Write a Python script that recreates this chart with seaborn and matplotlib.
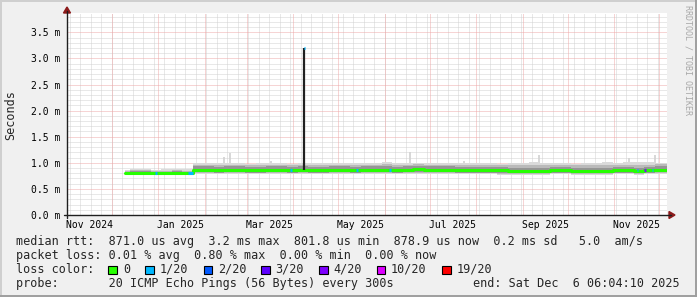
import numpy as np
import pandas as pd
import matplotlib
matplotlib.use("Agg")
import matplotlib.pyplot as plt
from matplotlib.patches import Rectangle, Polygon
from matplotlib.lines import Line2D
import seaborn as sns

# ---------------- data (values in ms) ----------------
period_starts = ["2024-12-10"] + list(
    pd.date_range("2024-12-13", "2025-12-05", freq="7D").strftime("%Y-%m-%d"))
range_start = "2024-11-01 06:04:10"
range_end = "2025-12-06 06:04:10"

median_ms = [0.80, 0.81, 0.81, 0.80, 0.80, 0.81, 0.80,
             0.87, 0.87, 0.86, 0.87, 0.87, 0.86, 0.86, 0.87, 0.87, 0.86,
             0.87, 0.86, 0.86, 0.87, 0.87, 0.86, 0.87, 0.87, 0.87, 0.86,
             0.87, 0.88, 0.87, 0.87, 0.87, 0.86, 0.86, 0.86, 0.86, 0.86,
             0.85, 0.85, 0.85, 0.85, 0.86, 0.86, 0.85, 0.85, 0.85, 0.85,
             0.86, 0.86, 0.85, 0.86, 0.87, 0.87]
outer_lo = [0.79, 0.79, 0.79, 0.79, 0.79, 0.79, 0.79,
            0.79, 0.79, 0.78, 0.79, 0.79, 0.78, 0.78, 0.79, 0.79, 0.78,
            0.79, 0.78, 0.78, 0.79, 0.79, 0.78, 0.79, 0.79, 0.79, 0.78,
            0.79, 0.79, 0.79, 0.78, 0.78, 0.78, 0.78, 0.78, 0.78, 0.77,
            0.77, 0.77, 0.77, 0.77, 0.78, 0.78, 0.77, 0.77, 0.77, 0.77,
            0.78, 0.78, 0.77, 0.78, 0.79, 0.79]
outer_hi = [0.87, 0.88, 0.88, 0.87, 0.88, 0.89, 0.88,
            0.99, 1.00, 0.99, 1.00, 0.99, 0.98, 0.99, 1.00, 0.99, 0.98,
            0.99, 0.99, 1.00, 0.99, 0.99, 1.00, 0.99, 1.00, 1.01, 1.00,
            0.99, 1.00, 1.00, 0.99, 0.99, 1.00, 1.00, 0.99, 0.99, 0.98,
            0.99, 1.00, 1.01, 1.00, 0.99, 0.99, 0.98, 0.99, 1.00, 1.01,
            1.00, 1.01, 1.02, 1.01, 1.00, 1.00]
mid_lo = [0.80, 0.80, 0.80, 0.79, 0.79, 0.80, 0.79,
          0.81, 0.81, 0.80, 0.81, 0.81, 0.80, 0.80, 0.81, 0.81, 0.80,
          0.81, 0.80, 0.80, 0.81, 0.81, 0.80, 0.81, 0.81, 0.81, 0.80,
          0.81, 0.81, 0.81, 0.80, 0.80, 0.80, 0.80, 0.80, 0.80, 0.79,
          0.79, 0.79, 0.79, 0.79, 0.80, 0.80, 0.79, 0.79, 0.79, 0.79,
          0.80, 0.80, 0.79, 0.80, 0.81, 0.81]
mid_hi = [0.85, 0.86, 0.86, 0.85, 0.85, 0.86, 0.85,
          0.96, 0.96, 0.95, 0.96, 0.96, 0.95, 0.95, 0.96, 0.96, 0.95,
          0.96, 0.95, 0.95, 0.96, 0.96, 0.95, 0.96, 0.96, 0.97, 0.96,
          0.96, 0.97, 0.96, 0.96, 0.96, 0.95, 0.95, 0.95, 0.95, 0.95,
          0.95, 0.95, 0.95, 0.95, 0.96, 0.96, 0.95, 0.95, 0.95, 0.95,
          0.96, 0.96, 0.96, 0.96, 0.97, 0.97]
core_lo = [0.80, 0.80, 0.80, 0.80, 0.80, 0.80, 0.80,
           0.82, 0.82, 0.81, 0.82, 0.82, 0.81, 0.81, 0.82, 0.82, 0.81,
           0.82, 0.81, 0.81, 0.82, 0.82, 0.81, 0.82, 0.82, 0.82, 0.81,
           0.82, 0.83, 0.82, 0.82, 0.82, 0.81, 0.81, 0.81, 0.81, 0.81,
           0.80, 0.80, 0.80, 0.80, 0.81, 0.81, 0.80, 0.80, 0.80, 0.80,
           0.81, 0.81, 0.80, 0.81, 0.82, 0.82]
core_hi = [0.83, 0.84, 0.84, 0.83, 0.83, 0.84, 0.83,
           0.93, 0.93, 0.92, 0.93, 0.93, 0.92, 0.92, 0.93, 0.93, 0.92,
           0.93, 0.92, 0.92, 0.93, 0.93, 0.92, 0.93, 0.93, 0.93, 0.92,
           0.93, 0.94, 0.93, 0.93, 0.93, 0.92, 0.92, 0.92, 0.92, 0.92,
           0.91, 0.91, 0.91, 0.91, 0.92, 0.92, 0.91, 0.91, 0.91, 0.91,
           0.92, 0.92, 0.91, 0.92, 0.93, 0.93]

gray_spike_dates = ["2025-02-14", "2025-02-18", "2025-03-17", "2025-06-12",
                    "2025-06-18", "2025-07-24", "2025-09-12", "2025-11-11",
                    "2025-11-28"]
gray_spike_tops = [1.11, 1.18, 1.04, 1.00, 1.21, 1.03, 1.15, 1.09, 1.15]

rtt_spike_date = "2025-04-08"
rtt_spike_base = 0.87
rtt_spike_top = 3.20

loss_start = ["2024-12-30", "2025-01-21", "2025-03-30", "2025-04-08",
              "2025-05-13", "2025-06-04", "2025-11-16", "2025-11-21",
              "2025-11-26"]
loss_days = [1, 3, 1, 1, 1, 1, 1, 1, 1]
loss_level = [1, 1, 1, 1, 1, 1, 1, 4, 1]
loss_value = [0.81, 0.80, 0.87, 3.20, 0.87, 0.87, 0.86, 0.86, 0.86]

loss_names = ["0", "1/20", "2/20", "3/20", "4/20", "10/20", "19/20"]
loss_levels_legend = [0, 1, 2, 3, 4, 10, 19]
loss_colors = {0: "#26ff00", 1: "#00b8ff", 2: "#0059ff", 3: "#5e00ff",
               4: "#7e00ff", 10: "#dd00ff", 19: "#ff0000"}

x_label_months = ["2024-11-01", "2025-01-01", "2025-03-01", "2025-05-01",
                  "2025-07-01", "2025-09-01", "2025-11-01"]
y_major = [0.0, 0.5, 1.0, 1.5, 2.0, 2.5, 3.0, 3.5]

legend_rtt = "median rtt:  871.0 us avg  3.2 ms max  801.8 us min  878.9 us now  0.2 ms sd   5.0  am/s"
legend_loss = "packet loss: 0.01 % avg  0.80 % max  0.00 % min  0.00 % now"
legend_probe = "probe:       20 ICMP Echo Pings (56 Bytes) every 300s"
legend_end = "end: Sat Dec  6 06:04:10 2025"

# ---------------- figure ----------------
sns.set_theme(style="white")
MONO = ["DejaVu Sans Mono"]
plt.rcParams["font.family"] = MONO

W, H = 697, 297
BACK = "#F0F0F0"
fig = plt.figure(figsize=(W / 100, H / 100), dpi=100, facecolor=BACK)


def fx(x):
    return x / W


def fy(y):
    return 1 - y / H


ax = fig.add_axes([fx(67), fy(215), 600 / W, 202 / H])
ax.set_facecolor("white")
x0 = pd.Timestamp(range_start)
x1 = pd.Timestamp(range_end)
ax.set_xlim(x0, x1)
ax.set_ylim(0, 3.87)
for s in ax.spines.values():
    s.set_visible(False)

# grid (dotted lines, snapped to pixels)
GRID = "#d2d2d2"
MGRID = "#eeaaaa"
dash = (0, (1, 1))
gkw = dict(lw=0.72, ls=dash, antialiased=True, snap=True)
for d in pd.date_range("2024-11-03", range_end, freq="W-SUN"):
    ax.axvline(d, color=GRID, zorder=0.5, **gkw)
for v in np.arange(0.1, 3.85, 0.1):
    if abs(v * 2 - round(v * 2)) > 1e-6:
        ax.axhline(v, color=GRID, zorder=0.5, **gkw)
for d in pd.date_range("2024-12-01", range_end, freq="MS"):
    ax.axvline(d, color=MGRID, zorder=0.6, **gkw)
for v in y_major[1:]:
    ax.axhline(v, color=MGRID, zorder=0.6, **gkw)

# smoke
df = pd.DataFrame({
    "date": pd.to_datetime(period_starts + [range_end], format="ISO8601"),
    "median": median_ms + [median_ms[-1]],
    "olo": outer_lo + [outer_lo[-1]], "ohi": outer_hi + [outer_hi[-1]],
    "mlo": mid_lo + [mid_lo[-1]], "mhi": mid_hi + [mid_hi[-1]],
    "clo": core_lo + [core_lo[-1]], "chi": core_hi + [core_hi[-1]],
})
for lo, hi, col in [("olo", "ohi", "#dadada"), ("mlo", "mhi", "#bababa"),
                    ("clo", "chi", "#959595")]:
    ax.fill_between(df["date"], df[lo], df[hi], step="post", color=col,
                    lw=0, zorder=1)

gdates = pd.to_datetime(gray_spike_dates)
ax.vlines(gdates, 0.95, gray_spike_tops, color="#d4d4d4", lw=1.3, zorder=0.9)

# median line
sns.lineplot(data=df, x="date", y="median", drawstyle="steps-post",
             color="#202020", lw=0.8, ax=ax, zorder=2)
sns.lineplot(data=df, x="date", y="median", drawstyle="steps-post",
             color=loss_colors[0], lw=2.2, ax=ax, zorder=3)
sd = pd.Timestamp(rtt_spike_date)
ax.vlines([sd], rtt_spike_base, rtt_spike_top, color="#202020", lw=1.6,
          zorder=4)
for s, n, lv, v in zip(loss_start, loss_days, loss_level, loss_value):
    t = pd.Timestamp(s)
    ax.hlines(v, t, t + pd.Timedelta(days=n), color=loss_colors[lv], lw=2.2,
              zorder=5)

# axes ticks
lab_pos = [pd.Timestamp(m) + pd.Timedelta(days=15) for m in x_label_months]
ax.set_xticks(lab_pos)
ax.set_xticklabels([pd.Timestamp(m).strftime("%b %Y") for m in x_label_months])
ax.set_yticks(y_major)
ax.set_yticklabels([f"{v:.1f} m" for v in y_major])
ax.tick_params(axis="both", length=0, labelsize=7, colors="black")
ax.tick_params(axis="x", pad=3.4)
ax.tick_params(axis="y", pad=5.0)
ax.set_xlabel("")
ax.set_ylabel("")

# axis lines + arrows
AX = "#1f1f1f"
ARROW = "#8b1a1a"
fig.add_artist(Line2D([fx(64), fx(671)], [fy(215), fy(215)], color=AX,
                      lw=1.0))
fig.add_artist(Line2D([fx(67), fx(67)], [fy(218), fy(11)], color=AX, lw=1.0))
fig.add_artist(Polygon([(fx(669), fy(211.5)), (fx(675), fy(215)),
                        (fx(669), fy(218.5))], closed=True, color=ARROW))
fig.add_artist(Polygon([(fx(63.5), fy(13)), (fx(67), fy(7)),
                        (fx(70.5), fy(13))], closed=True, color=ARROW))

# frame shading
fig.add_artist(Line2D([0, 1], [fy(0.5), fy(0.5)], color="#CFCFCF", lw=1.4))
fig.add_artist(Line2D([fx(0.5), fx(0.5)], [0, 1], color="#CFCFCF", lw=1.4))
fig.add_artist(Line2D([fx(696), fx(696)], [0, 1], color="#9E9E9E", lw=1.4))
fig.add_artist(Line2D([0, 1], [fy(296), fy(296)], color="#9E9E9E", lw=1.4))

# labels
LEG = 8.45
fig.text(fx(10.5), fy(115), "Seconds", rotation=90, ha="center", va="center",
         fontsize=LEG)
fig.text(fx(688), fy(5), "RRDTOOL / TOBI OETIKER", rotation=270, ha="center",
         va="top", fontsize=6.0, color="#a8a8a8")

fig.text(fx(16.4), fy(241.7), legend_rtt, ha="left", va="center", fontsize=LEG)
fig.text(fx(16.4), fy(255), legend_loss, ha="left", va="center", fontsize=LEG)
fig.text(fx(16.4), fy(269.3), "loss color:", ha="left", va="center",
         fontsize=LEG)
box_x = [108, 145.3, 203.6, 261.3, 319.1, 376.9, 442.2]
lab_x = [123.1, 160, 217.8, 275.6, 333.3, 391.1, 456.4]
for bx, tx, lv, nm in zip(box_x, lab_x, loss_levels_legend, loss_names):
    fig.add_artist(Rectangle((fx(bx), fy(274)), 8.5 / W, 8.5 / H,
                             facecolor=loss_colors[lv], edgecolor="black",
                             lw=0.8))
    fig.text(fx(tx), fy(269.3), nm, ha="left", va="center", fontsize=LEG)
fig.text(fx(16.4), fy(283.3), legend_probe, ha="left", va="center",
         fontsize=LEG)
fig.text(fx(680), fy(283.3), legend_end, ha="right", va="center",
         fontsize=LEG)

fig.savefig("out.png", dpi=100, facecolor=BACK)
